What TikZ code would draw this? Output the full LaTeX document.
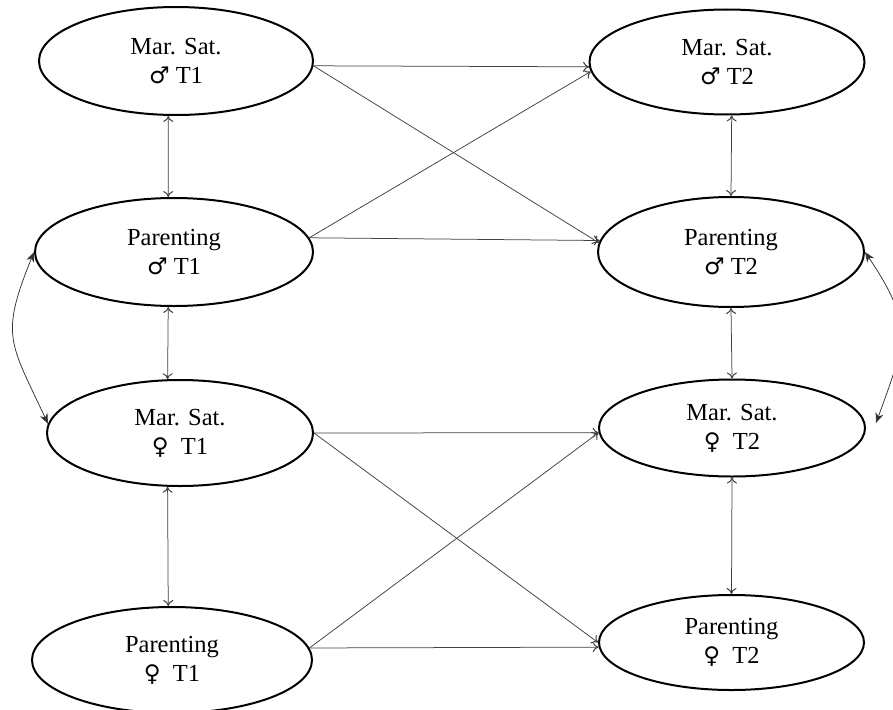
\documentclass[tikz,border=0pt]{standalone}
\usepackage{fontspec}
\setmainfont{Liberation Serif}
\newfontfamily\symfont{DejaVu Sans}
\usetikzlibrary{shapes.geometric,arrows.meta}
% gender signs taken from DejaVu Sans
\newcommand{\gmale}{{\symfont\fontsize{23}{23}\selectfont ♂}}
\newcommand{\gfemale}{{\symfont\fontsize{23}{23}\selectfont ♀}}
\begin{document}
\begin{tikzpicture}[x=1pt,y=-1pt,
  latent/.style={ellipse, draw, line width=2pt, inner sep=0pt, align=center,
    font=\fontsize{24.5}{29}\selectfont},
  tip/.style={},
  regpath/.style={draw=black!75, line width=0.75pt, -{To[length=6pt,width=10pt,line width=1pt]}},
  covpath/.style={draw=black!75, line width=0.75pt,
    {To[length=6pt,width=10pt,line width=1pt]}-{To[length=6pt,width=10pt,line width=1pt]}},
  corrpath/.style={draw=black!80, line width=0.75pt,
    {Stealth[length=10pt,width=8pt,inset=3pt]}-{Stealth[length=10pt,width=8pt,inset=3pt]}}
]
\useasboundingbox (0,0) rectangle (893,709);
\clip (0,0) rectangle (893,709);

% wave 1
\node[latent, minimum width=274pt, minimum height=108pt] (MSMT1) at (176,61) {Mar. Sat.\\\gmale~T1};
\node[latent, minimum width=278pt, minimum height=108pt] (ParMT1) at (174,252) {Parenting\\\gmale~T1};
\node[latent, minimum width=266pt, minimum height=106pt] (MSFT1) at (180,433) {Mar. Sat.\\\gfemale~~T1};
\node[latent, minimum width=280pt, minimum height=106pt] (ParFT1) at (172,660) {Parenting\\\gfemale~~T1};

% wave 2
\node[latent, minimum width=275pt, minimum height=105pt] (MSMT2) at (727,62) {Mar. Sat.\\\gmale~T2};
\node[latent, minimum width=266pt, minimum height=110pt] (ParMT2) at (731,252) {Parenting\\\gmale~T2};
\node[latent, minimum width=266pt, minimum height=97pt] (MSFT2) at (732,428) {Mar. Sat.\\\gfemale~~T2};
\node[latent, minimum width=265pt, minimum height=95pt] (ParFT2) at (731.5,642.5) {Parenting\\\gfemale~~T2};

% within-wave covariances
\draw[covpath] (MSMT1.262) -- (ParMT1.96);
\draw[covpath] (ParMT1.264) -- (MSFT1.103);
\draw[covpath] (MSFT1.257) -- (ParFT1.94);
\draw[covpath] (MSMT2.275) -- (ParMT2.north);
\draw[covpath] (ParMT2.south) -- (MSFT2.north);
\draw[covpath] (MSFT2.south) -- (ParFT2.north);

% cross-lagged paths, fathers
\draw[regpath] (MSMT1.-2) -- (MSMT2.182);
\draw[regpath] (MSMT1.-2) -- (ParMT2.176);
\draw[regpath] (ParMT1.6) -- (MSMT2.184);
\draw[regpath] (ParMT1.6) -- (ParMT2.175);

% cross-lagged paths, mothers
\draw[regpath] (MSFT1.east) -- (MSFT2.182);
\draw[regpath] (MSFT1.east) -- (ParFT2.west);
\draw[regpath] (ParFT1.5) -- (MSFT2.182);
\draw[regpath] (ParFT1.5) -- (ParFT2.182);

% curved covariances between partners
\draw[corrpath] (ParMT1.west) to[out=-112, in=115, looseness=1.35] (MSFT1.176);
\draw[corrpath] (ParMT2.east) to[out=-56, in=70, looseness=1.3] ([shift={(10,-5)}]MSFT2.east);
\end{tikzpicture}
\end{document}
